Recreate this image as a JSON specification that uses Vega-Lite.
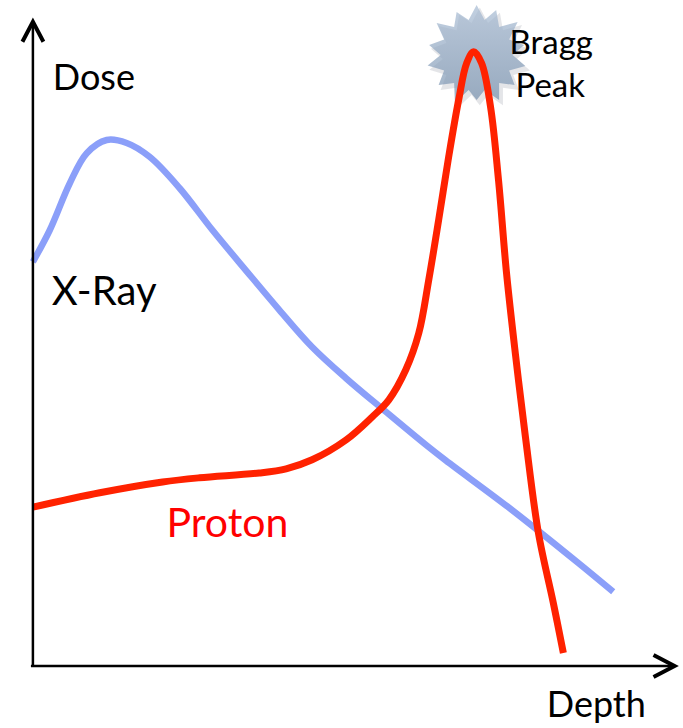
{
  "$schema": "https://vega.github.io/schema/vega-lite/v6.json",
  "width": 683,
  "height": 728,
  "padding": 0,
  "autosize": {"type": "fit", "contains": "padding"},
  "background": "white",
  "view": {"stroke": null},
  "config": {"text": {"font": "Lato"}},
  "datasets": {
    "curves": [
      {"series": "X-Ray", "depth": 0, "dose": 67.2},
      {"series": "X-Ray", "depth": 2.83, "dose": 72.5},
      {"series": "X-Ray", "depth": 6.17, "dose": 80.3},
      {"series": "X-Ray", "depth": 9.0, "dose": 85.3},
      {"series": "X-Ray", "depth": 12.33, "dose": 87.5},
      {"series": "X-Ray", "depth": 15.67, "dose": 87.0},
      {"series": "X-Ray", "depth": 19.5, "dose": 84.7},
      {"series": "X-Ray", "depth": 24.5, "dose": 79.5},
      {"series": "X-Ray", "depth": 30.0, "dose": 72.5},
      {"series": "X-Ray", "depth": 35.67, "dose": 65.7},
      {"series": "X-Ray", "depth": 41.17, "dose": 59.2},
      {"series": "X-Ray", "depth": 46.67, "dose": 53.0},
      {"series": "X-Ray", "depth": 52.33, "dose": 47.8},
      {"series": "X-Ray", "depth": 59.0, "dose": 42.2},
      {"series": "X-Ray", "depth": 65.67, "dose": 36.7},
      {"series": "X-Ray", "depth": 69.0, "dose": 34.1},
      {"series": "X-Ray", "depth": 80.0, "dose": 25.9},
      {"series": "X-Ray", "depth": 91.17, "dose": 17.0},
      {"series": "X-Ray", "depth": 97.0, "dose": 12.2},
      {"series": "Proton", "depth": 0, "dose": 26.3},
      {"series": "Proton", "depth": 11.17, "dose": 28.7},
      {"series": "Proton", "depth": 21.67, "dose": 30.5},
      {"series": "Proton", "depth": 27.83, "dose": 31.2},
      {"series": "Proton", "depth": 37.83, "dose": 32.0},
      {"series": "Proton", "depth": 42.33, "dose": 32.7},
      {"series": "Proton", "depth": 46.67, "dose": 34.2},
      {"series": "Proton", "depth": 52.33, "dose": 37.5},
      {"series": "Proton", "depth": 56.67, "dose": 41.3},
      {"series": "Proton", "depth": 59.5, "dose": 44.2},
      {"series": "Proton", "depth": 62.33, "dose": 49.2},
      {"series": "Proton", "depth": 64.5, "dose": 55.3},
      {"series": "Proton", "depth": 66.17, "dose": 64.2},
      {"series": "Proton", "depth": 67.83, "dose": 74.2},
      {"series": "Proton", "depth": 69.5, "dose": 84.7},
      {"series": "Proton", "depth": 71.17, "dose": 94.2},
      {"series": "Proton", "depth": 72.5, "dose": 100.3},
      {"series": "Proton", "depth": 73.67, "dose": 102.2},
      {"series": "Proton", "depth": 75.0, "dose": 100.3},
      {"series": "Proton", "depth": 76.5, "dose": 93.0},
      {"series": "Proton", "depth": 77.83, "dose": 80.8},
      {"series": "Proton", "depth": 79.17, "dose": 65.3},
      {"series": "Proton", "depth": 80.67, "dose": 51.7},
      {"series": "Proton", "depth": 82.33, "dose": 38.0},
      {"series": "Proton", "depth": 84.5, "dose": 22.0},
      {"series": "Proton", "depth": 87.0, "dose": 10.3},
      {"series": "Proton", "depth": 88.67, "dose": 2.0}
    ],
    "axes": [
      {"axis": "dose", "depth": 0, "dose": 107.2, "depth2": 0, "dose2": -0.33},
      {"axis": "depth", "depth": -0.33, "dose": -0.17, "depth2": 107.2, "dose2": -0.17}
    ],
    "labels": [
      {"label": "Dose", "depth": 3.33, "dose": 95.75, "kind": "black", "size": 36},
      {"label": "X-Ray", "depth": 3.17, "dose": 60.0, "kind": "black", "size": 40},
      {"label": "Proton", "depth": 22.33, "dose": 21.33, "kind": "red", "size": 41},
      {"label": "Bragg", "depth": 79.67, "dose": 101.83, "kind": "black", "size": 33},
      {"label": "Peak", "depth": 80.67, "dose": 94.67, "kind": "black", "size": 33},
      {"label": "Depth", "depth": 85.9, "dose": -8.6, "kind": "black", "size": 36}
    ]
  },
  "encoding": {
    "x": {"field": "depth", "type": "quantitative", "scale": {"domain": [-5.5, 108.333], "nice": false, "zero": false}, "axis": null},
    "y": {"field": "dose", "type": "quantitative", "scale": {"domain": [-10.5, 110.833], "nice": false, "zero": false}, "axis": null}
  },
  "layer": [
    {
      "data": {"values": [{"depth": 74.7, "dose": 101.0}]},
      "mark": {"type": "point", "filled": true, "size": 10600, "opacity": 0.16, "color": "#556070", "strokeWidth": 0,
        "shape": "M0 -1 L0.16 -0.7 L0.391 -0.9 L0.45 -0.56 L0.82 -0.66 L0.65 -0.31 L0.95 -0.2 L0.72 0 L0.975 0.222 L0.65 0.31 L0.76 0.6 L0.45 0.56 L0.45 0.9 L0.16 0.7 L0 0.9 L-0.16 0.7 L-0.434 0.95 L-0.45 0.56 L-0.76 0.6 L-0.65 0.31 L-0.98 0.21 L-0.72 0 L-0.95 -0.2 L-0.65 -0.31 L-0.8 -0.64 L-0.45 -0.56 L-0.4 -0.86 L-0.16 -0.7 Z"}
    },
    {
      "data": {"values": [{"depth": 74.17, "dose": 101.67}]},
      "mark": {"type": "point", "filled": true, "size": 10000, "strokeWidth": 0,
        "fill": {"gradient": "linear", "x1": 0, "y1": 0, "x2": 0, "y2": 1, "stops": [{"offset": 0, "color": "#a7bbd3"}, {"offset": 1, "color": "#7690ad"}]},
        "shape": "M0 -1 L0.16 -0.7 L0.391 -0.9 L0.45 -0.56 L0.82 -0.66 L0.65 -0.31 L0.95 -0.2 L0.72 0 L0.975 0.222 L0.65 0.31 L0.76 0.6 L0.45 0.56 L0.45 0.9 L0.16 0.7 L0 0.9 L-0.16 0.7 L-0.434 0.95 L-0.45 0.56 L-0.76 0.6 L-0.65 0.31 L-0.98 0.21 L-0.72 0 L-0.95 -0.2 L-0.65 -0.31 L-0.8 -0.64 L-0.45 -0.56 L-0.4 -0.86 L-0.16 -0.7 Z"}
    },
    {
      "data": {"name": "curves"},
      "transform": [{"filter": "datum.series === 'X-Ray'"}],
      "mark": {"type": "line", "interpolate": "catmull-rom", "color": "#8b9ff9", "strokeWidth": 6.5, "strokeCap": "butt"}
    },
    {
      "data": {"name": "curves"},
      "transform": [{"filter": "datum.series === 'Proton'"}],
      "mark": {"type": "line", "interpolate": "catmull-rom", "color": "#ff2200", "strokeWidth": 7, "strokeCap": "butt"}
    },
    {
      "data": {"name": "axes"},
      "mark": {"type": "rule", "color": "black", "strokeWidth": 2.5},
      "encoding": {
        "x2": {"field": "depth2"},
        "y2": {"field": "dose2"}
      }
    },
    {
      "data": {"values": [{"depth": 0, "dose": 107.2}]},
      "mark": {"type": "point", "filled": false, "size": 1600, "color": "black", "strokeWidth": 4, "strokeJoin": "miter", "opacity": 1,
        "shape": "M-0.525 1 L0 0 L0.525 1"}
    },
    {
      "data": {"values": [{"depth": 107.25, "dose": -0.17}]},
      "mark": {"type": "point", "filled": false, "size": 1764, "color": "black", "strokeWidth": 4, "strokeJoin": "miter", "opacity": 1,
        "shape": "M-1 -0.52 L0 0 L-1 0.52"}
    },
    {
      "data": {"name": "labels"},
      "mark": {"type": "text", "align": "left", "baseline": "alphabetic", "font": "Lato"},
      "encoding": {
        "text": {"field": "label"},
        "size": {"field": "size", "type": "quantitative", "scale": null},
        "color": {"field": "kind", "type": "nominal", "scale": {"domain": ["black", "red"], "range": ["#000000", "#ff0000"]}, "legend": null}
      }
    }
  ]
}
